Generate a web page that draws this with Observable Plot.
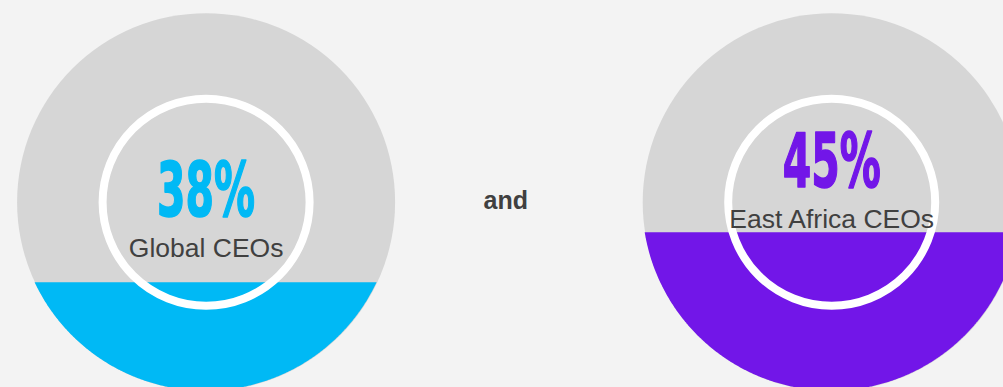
<!DOCTYPE html>
<html><head><meta charset="utf-8">
<style>html,body{margin:0;padding:0;background:#f3f3f3;overflow:hidden}</style>
<script src="https://cdn.jsdelivr.net/npm/d3@7"></script>
<script src="https://cdn.jsdelivr.net/npm/@observablehq/plot@0.6"></script>
</head><body><div id="chart"></div>
<script>
// ---- data ----
const categories = ["Global CEOs", "East Africa CEOs"];
const values = [38, 45];
const fillShares = [0.287, 0.419]; // share of the disc diameter filled from the bottom
const connector = ["and"];

// ---- layout / styles ----
const W = 1003, H = 387;
const R = 189, ringR = 103.5;
const centersX = [205.6, 831.2], centerY = 201.7;
const pctBaseline = [215, 186.7];
const labelBaseline = [256, 227];
const pctSize = 75, labelSize = 26.5;
const palette = ["#00b9f5", "#7216e8"];

const gauges = categories.map((c, i) => ({
  category: c, value: values[i], share: fillShares[i],
  x: centersX[i], y: centerY,
  pctY: pctBaseline[i] - 0.32 * pctSize,
  labY: labelBaseline[i] - 0.32 * labelSize
}));

const segment = gauges.flatMap(g => {
  const level = g.y + R - 2 * R * g.share;
  const half = Math.sqrt(R * R - (level - g.y) ** 2);
  const n = 400;
  return d3.range(n + 1).map(k => {
    const x = g.x - half + 2 * half * k / n;
    return {category: g.category, x, y1: level, y2: g.y + Math.sqrt(Math.max(0, R * R - (x - g.x) ** 2))};
  });
});

const plot = Plot.plot({
  width: W, height: H, margin: 0,
  x: {domain: [0, W], range: [0, W], axis: null},
  y: {domain: [0, H], range: [0, H], axis: null},
  color: {domain: categories, range: palette},
  style: {background: "#f3f3f3", overflow: "hidden"},
  marks: [
    Plot.dot(gauges, {x: "x", y: "y", r: R, fill: "#d6d6d6"}),
    Plot.areaY(segment, {x: "x", y1: "y1", y2: "y2", z: "category", fill: "category", curve: "linear"}),
    Plot.dot(gauges, {x: "x", y: "y", r: ringR, stroke: "white", strokeWidth: 8, fill: "none"}),
    Plot.text(gauges, {x: "x", y: "pctY", text: d => d.value + "%", fill: "category", stroke: "category", strokeWidth: 1.6,
      fontSize: pctSize, fontWeight: "bold", fontFamily: "DejaVu Sans Condensed, DejaVu Sans, sans-serif"}),
    Plot.text(gauges, {x: "x", y: "labY", text: "category", fill: "#404040",
      fontSize: labelSize, fontFamily: "Liberation Sans, Arial, sans-serif"}),
    Plot.text(connector, {x: () => 505.3, y: () => 208.3 - 0.32 * 25, text: d => d, fill: "#404040",
      fontSize: 25, fontWeight: "bold", fontFamily: "Liberation Sans, Arial, sans-serif"})
  ]
});
document.getElementById("chart").appendChild(plot);
d3.select(plot).selectAll("text")
  .filter(function() { return /%$/.test(this.textContent); })
  .attr("textLength", 98)
  .attr("lengthAdjust", "spacingAndGlyphs");
</script>
</body></html>
